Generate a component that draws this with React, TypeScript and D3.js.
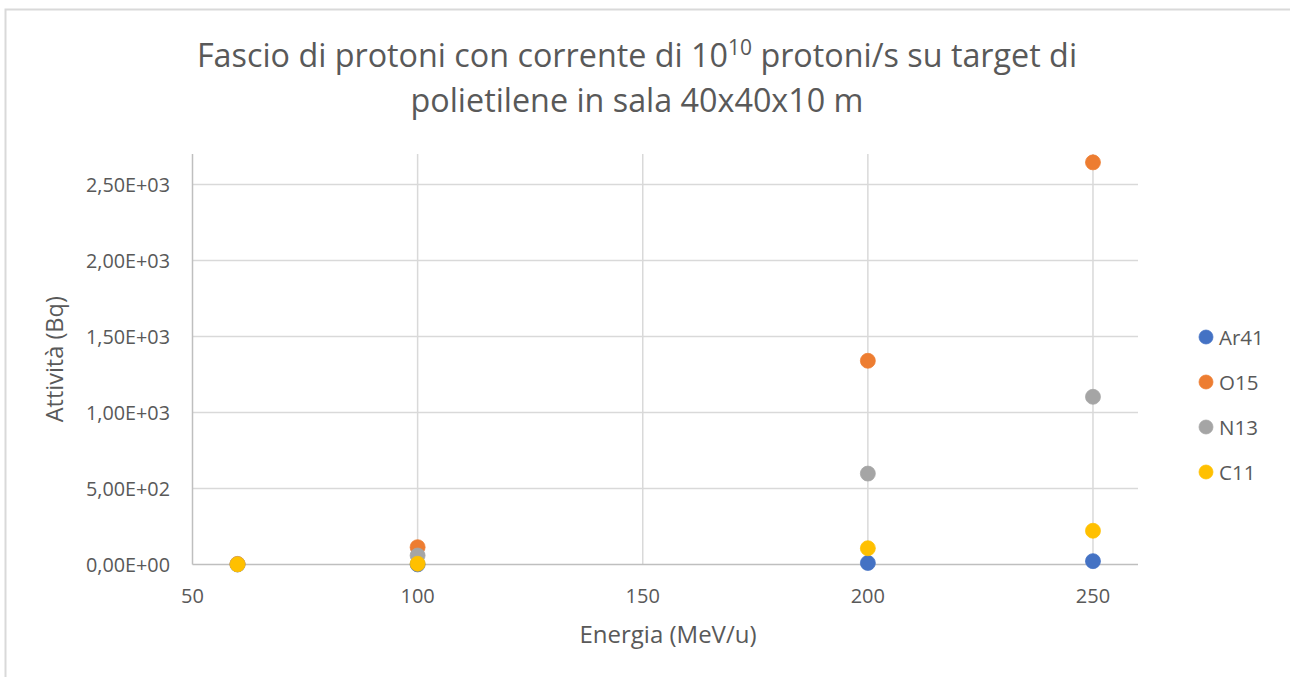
import React from "react";
import * as d3 from "d3";

const energies = [60, 100, 200, 250];
const seriesNames = ["Ar41", "O15", "N13", "C11"];
const ar41 = [0.2, 0.6, 10, 22];
const o15 = [4, 114, 1340, 2645];
const n13 = [2, 59, 598, 1103];
const c11 = [1, 5, 107, 222];
const seriesColors = ["#4472C4", "#ED7D31", "#A5A5A5", "#FFC000"];
const xTicks = [50, 100, 150, 200, 250];
const yTicks = [0, 500, 1000, 1500, 2000, 2500];

const W = 1290;
const H = 677;
const FONT = "'Open Sans', sans-serif";
const TXT = "#595959";

function fmtSci(v: number): string {
  const [m, e] = v.toExponential(2).split("e");
  const ex = parseInt(e, 10);
  const sign = ex < 0 ? "-" : "+";
  const abs = Math.abs(ex).toString().padStart(2, "0");
  return m.replace(".", ",") + "E" + sign + abs;
}

export default function App() {
  const plot = { left: 192.5, right: 1138, top: 154, bottom: 564.5 };
  const x = d3.scaleLinear().domain([50, 260]).range([plot.left, plot.right]);
  const y = d3.scaleLinear().domain([0, 2700]).range([plot.bottom, plot.top]);
  const allSeries = [ar41, o15, n13, c11];

  return (
    <svg
      width={W}
      height={H}
      style={{ position: "absolute", left: 0, top: 0, background: "#fff" }}
      fontFamily={FONT}
    >
      <rect x={0} y={0} width={W} height={H} fill="#fff" />
      <rect x={5.5} y={9.5} width={W + 10} height={H + 10} fill="none" stroke="#d9d9d9" strokeWidth={2} />

      {/* title */}
      <text x={637} y={67} textAnchor="middle" fontSize={32.3} fill={TXT}>
        <tspan>Fascio di protoni con corrente di 10</tspan>
        <tspan fontSize={21} dy={-12}>10</tspan>
        <tspan dy={12}> protoni/s su target di</tspan>
      </text>
      <text x={637} y={112} textAnchor="middle" fontSize={32.3} fill={TXT}>
        polietilene in sala 40x40x10 m
      </text>

      {/* horizontal grid */}
      {yTicks.filter((t) => t > 0).map((t) => (
        <line key={"hg" + t} x1={plot.left} x2={plot.right} y1={y(t)} y2={y(t)} stroke="#d9d9d9" strokeWidth={1.5} />
      ))}
      {/* vertical grid */}
      {xTicks.filter((t) => t > 50).map((t) => (
        <line key={"vg" + t} x1={x(t)} x2={x(t)} y1={plot.top} y2={plot.bottom} stroke="#d9d9d9" strokeWidth={1.5} />
      ))}
      {/* axes */}
      <line x1={plot.left} x2={plot.left} y1={plot.top} y2={plot.bottom} stroke="#bfbfbf" strokeWidth={1.5} />
      <line x1={plot.left} x2={plot.right} y1={y(0)} y2={y(0)} stroke="#bfbfbf" strokeWidth={1.5} />

      {/* y tick labels */}
      {yTicks.map((t) => (
        <text key={"yl" + t} x={170} y={y(t) + 7.5} textAnchor="end" fontSize={19.8} fill={TXT}>
          {fmtSci(t)}
        </text>
      ))}
      {/* x tick labels */}
      {xTicks.map((t) => (
        <text key={"xl" + t} x={x(t)} y={603} textAnchor="middle" fontSize={20} fill={TXT}>
          {t}
        </text>
      ))}

      {/* axis titles */}
      <text x={668} y={643} textAnchor="middle" fontSize={24} fill={TXT}>
        Energia (MeV/u)
      </text>
      <text
        transform={`translate(63,${(plot.top + plot.bottom) / 2}) rotate(-90)`}
        textAnchor="middle"
        fontSize={23.5}
        fill={TXT}
      >
        Attività (Bq)
      </text>

      {/* points */}
      {allSeries.map((s, si) =>
        s.map((v, i) => (
          <circle
            key={si + "-" + i}
            cx={x(energies[i])}
            cy={y(v)}
            r={7.5}
            fill={seriesColors[si]}
            stroke={seriesColors[si]}
            strokeWidth={0.75}
          />
        ))
      )}

      {/* legend */}
      {seriesNames.map((n, i) => (
        <g key={n} transform={`translate(1206,${337 + i * 45})`}>
          <circle r={7} fill={seriesColors[i]} stroke={seriesColors[i]} strokeWidth={0.75} />
          <text x={13} y={7.5} fontSize={20.5} fill={TXT}>
            {n}
          </text>
        </g>
      ))}
    </svg>
  );
}
